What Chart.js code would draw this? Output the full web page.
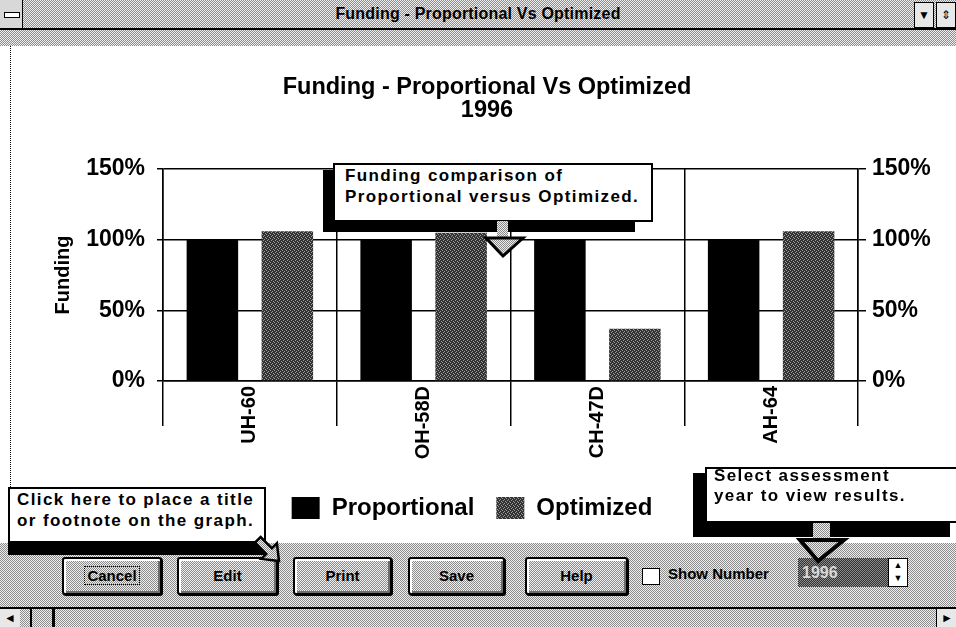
<!DOCTYPE html>
<html>
<head>
<meta charset="utf-8">
<title>Funding - Proportional Vs Optimized</title>
<script src="https://cdn.jsdelivr.net/npm/chart.js@4.4.0/dist/chart.umd.min.js"></script>
<style>
  body { margin:0; width:956px; height:627px; overflow:hidden; position:relative; background:#fff;
         font-family:"Liberation Sans", Arial, sans-serif; color:#000; }
  .dither { background-color:#c4c4c4;
            background-image:repeating-conic-gradient(#8c8c8c 0 25%, #efefef 0 50%);
            background-size:2px 2px; }
  .darkdither { background-image:repeating-conic-gradient(#333 0 25%, #8a8a8a 0 50%);
                background-size:2px 2px; }
  #titlebar { position:absolute; left:0; top:0; width:956px; height:28px; border-bottom:2px solid #000; }
  #titlebar .txt { position:absolute; left:0; width:956px; top:5px; text-align:center; font-weight:bold;
                   font-size:16px; letter-spacing:0.2px; }
  #sysbox { position:absolute; left:0; top:0; width:22px; height:28px; border-right:1px solid #000; background:#d8d8d8; }
  #sysbox div { position:absolute; left:4px; top:12px; width:14px; height:4px; background:#fff; border:1px solid #000; }
  .tbtn { position:absolute; top:2px; width:18px; height:24px; background:#e8e8e8; border:1px solid #000;
          font-size:12px; text-align:center; line-height:24px; }
  #menustrip { position:absolute; left:0; top:30px; width:956px; height:16px; }
  #plotwrap { position:absolute; left:10px; top:46px; width:946px; height:497px; background:#fff;
              border-left:1px dotted #000; box-sizing:border-box; }
  #chart { position:absolute; left:-1px; top:0; }
  #toolbar { position:absolute; left:0; top:543px; width:956px; height:64px; }
  .btn { position:absolute; top:14px; height:38px; box-sizing:border-box; border:2px solid #000; border-radius:3px;
         box-shadow:inset 2px 2px 0 #fff, inset -2px -2px 0 #6e6e6e, 1px 1px 0 #000;
         font-weight:bold; font-size:15px; text-align:center; line-height:34px; }
  .btn span { padding:0 2px; }
  #chk { position:absolute; left:642px; top:25px; width:16px; height:15px; background:#fff; border:1px solid #000; }
  #shownum { position:absolute; left:668px; top:22px; font-weight:bold; font-size:15px; }
  #year { position:absolute; left:798px; top:15px; width:90px; height:29px; color:#d8d8d8;
          font-weight:bold; font-size:16px; line-height:29px; padding-left:4px; box-sizing:border-box; }
  #spin { position:absolute; left:888px; top:15px; width:20px; height:29px; background:#fff; border:1px solid #000;
          box-sizing:border-box; font-size:9px; text-align:center; line-height:13px; }
  #status { position:absolute; left:0; top:607px; width:956px; height:20px; border-top:2px solid #000; box-sizing:border-box; }
  .sbox { position:absolute; top:0; width:20px; height:18px; background:#e8e8e8; font-size:12px; text-align:center; line-height:18px; }
  .callout { position:absolute; background:#fff; border:2px solid #000; box-sizing:border-box; z-index:3;
             font-weight:bold; font-size:17px; letter-spacing:1.4px; line-height:21px; white-space:nowrap; }
  .shadow { position:absolute; background:#000; z-index:2; }
  #arrows { position:absolute; left:0; top:0; z-index:4; }
</style>
</head>
<body>
<div id="titlebar" class="dither">
  <div id="sysbox"><div></div></div>
  <div class="txt">Funding - Proportional Vs Optimized</div>
  <div class="tbtn" style="left:914px">&#9660;</div>
  <div class="tbtn" style="left:936px">&#8661;</div>
</div>
<div id="menustrip" class="dither"></div>

<div id="plotwrap"><canvas id="chart" width="946" height="497"></canvas></div>

<div id="toolbar" class="dither">
  <div class="btn dither" style="left:62px;width:100px"><span style="outline:1px dotted #000">Cancel</span></div>
  <div class="btn dither" style="left:177px;width:101px">Edit</div>
  <div class="btn dither" style="left:293px;width:99px">Print</div>
  <div class="btn dither" style="left:408px;width:97px">Save</div>
  <div class="btn dither" style="left:525px;width:103px">Help</div>
  <div id="chk"></div>
  <div id="shownum">Show Number</div>
  <div id="year" class="darkdither">1996</div>
  <div id="spin">&#9650;<br>&#9660;</div>
</div>

<div id="status" class="dither">
  <div class="sbox" style="left:0">&#9668;</div>
  <div style="position:absolute;left:30px;top:0;width:2px;height:18px;background:#000"></div>
  <div style="position:absolute;left:52px;top:0;width:3px;height:18px;background:#000"></div>
  <div class="sbox" style="left:936px;border-left:1px solid #000">&#9658;</div>
</div>

<!-- help balloons -->
<div class="shadow" style="left:323px;top:170px;width:312px;height:62px"></div>
<div class="callout" style="left:333px;top:163px;width:320px;height:59px;padding:0 0 0 10px">
  Funding comparison of<br>Proportional versus Optimized.
</div>

<div class="shadow" style="left:8px;top:543px;width:259px;height:12px"></div>
<div class="callout" style="left:8px;top:487px;width:258px;height:56px;padding:0 0 0 7px">
  Click here to place a title<br>or footnote on the graph.
</div>

<div class="shadow" style="left:693px;top:473px;width:257px;height:64px"></div>
<div class="callout" style="left:705px;top:467px;width:260px;height:56px;padding:0 0 0 7px;line-height:20px">
  <div style="margin-top:-3px">Select assessment<br>year to view results.</div>
</div>

<svg id="arrows" width="956" height="627">
  <defs>
    <pattern id="gd" width="2" height="2" patternUnits="userSpaceOnUse">
      <rect width="2" height="2" fill="#ededed"/>
      <rect width="1" height="1" fill="#8a8a8a"/>
      <rect x="1" y="1" width="1" height="1" fill="#8a8a8a"/>
    </pattern>
  </defs>
  <rect x="497" y="221" width="11" height="18" fill="url(#gd)"/>
  <polygon points="486,238 523,238 503,256" fill="url(#gd)" stroke="#000" stroke-width="3"/>
  <rect x="813" y="523" width="17" height="18" fill="url(#gd)"/>
  <polygon points="800,540 844,540 818,561" fill="url(#gd)" stroke="#000" stroke-width="4"/>
  <polygon points="260.6,537 271.9,548.3 276.9,543.3 279,561 261.3,558.9 266.3,553.9 255,542.6"
           fill="url(#gd)" stroke="#000" stroke-width="2.5"/>
</svg>

<script>
const categories = ["UH-60", "OH-58D", "CH-47D", "AH-64"];
const seriesNames = ["Proportional", "Optimized"];
const proportional = [100, 100, 100, 100];
const optimized = [106, 105, 37, 106];
const yTicks = [0, 50, 100, 150];
const chartTitle = ["Funding - Proportional Vs Optimized", "1996"];

const FONT = '"Liberation Sans", Arial, sans-serif';

// dithered dark gray fill, like the old 16 colour screen
function ditherPattern() {
  const c = document.createElement("canvas");
  c.width = 4; c.height = 4;
  const g = c.getContext("2d");
  g.fillStyle = "#333";
  g.fillRect(0, 0, 4, 4);
  g.fillStyle = "#9a9a9a";
  [[0,0],[2,1],[1,2],[3,3]].forEach(p => g.fillRect(p[0], p[1], 1, 1));
  return g.createPattern(c, "repeat");
}

// legend sits a little left of the title in the original
const legendShift = {
  id: "legendShift",
  afterLayout(chart) {
    chart.legend.left -= 15;
    chart.legend.right -= 15;
  }
};

const axisFont = { family: FONT, size: 23, weight: "bold" };

const yScale = (position, extra) => Object.assign({
  position: position,
  min: yTicks[0],
  max: yTicks[yTicks.length - 1],
  afterBuildTicks: s => { s.ticks = yTicks.map(v => ({ value: v })); },
  border: { color: "#000", width: 1.5 }
}, extra);

new Chart(document.getElementById("chart").getContext("2d"), {
  type: "bar",
  data: {
    labels: categories,
    datasets: [
      { label: seriesNames[0], data: proportional, backgroundColor: "#000" },
      { label: seriesNames[1], data: optimized, backgroundColor: ditherPattern() }
    ]
  },
  plugins: [legendShift],
  options: {
    responsive: false,
    animation: false,
    categoryPercentage: 0.863,
    barPercentage: 0.687,
    layout: { padding: { left: 8, right: 0, top: 0, bottom: 13 } },
    scales: {
      x: {
        grid: { offset: true, color: "#000", lineWidth: 1.5, tickLength: 45 },
        border: { color: "#000", width: 1.5 },
        ticks: { color: "#000", font: { family: FONT, size: 20, weight: "bold" },
                 minRotation: 90, maxRotation: 90, autoSkip: false, padding: -40 },
        afterFit: s => { s.height = 93; }
      },
      y: yScale("left", {
        grid: { color: "#000", lineWidth: 1.5, tickLength: 6 },
        ticks: { color: "#000", font: axisFont, padding: 12, callback: v => v + "%" },
        title: { display: true, text: "Funding", color: "#000",
                 font: { family: FONT, size: 20, weight: "bold" }, padding: { top: 33, bottom: 0 } },
        afterFit: s => { s.width = 145; }
      }),
      y2: yScale("right", {
        grid: { drawOnChartArea: false, color: "#000", lineWidth: 1.5, tickLength: 8 },
        ticks: { color: "#000", font: axisFont, padding: 6, callback: v => v + "%" },
        afterFit: s => { s.width = 98; }
      })
    },
    plugins: {
      title: {
        display: true,
        text: chartTitle,
        color: "#000",
        font: { family: FONT, size: 23.5, weight: "bold", lineHeight: 0.98 },
        padding: { top: 30, bottom: 47 }
      },
      legend: {
        position: "bottom",
        labels: { color: "#000", font: { family: FONT, size: 24, weight: "bold" },
                  boxWidth: 28, boxHeight: 22, padding: 22 }
      },
      tooltip: { enabled: false }
    }
  }
});
</script>
</body>
</html>
